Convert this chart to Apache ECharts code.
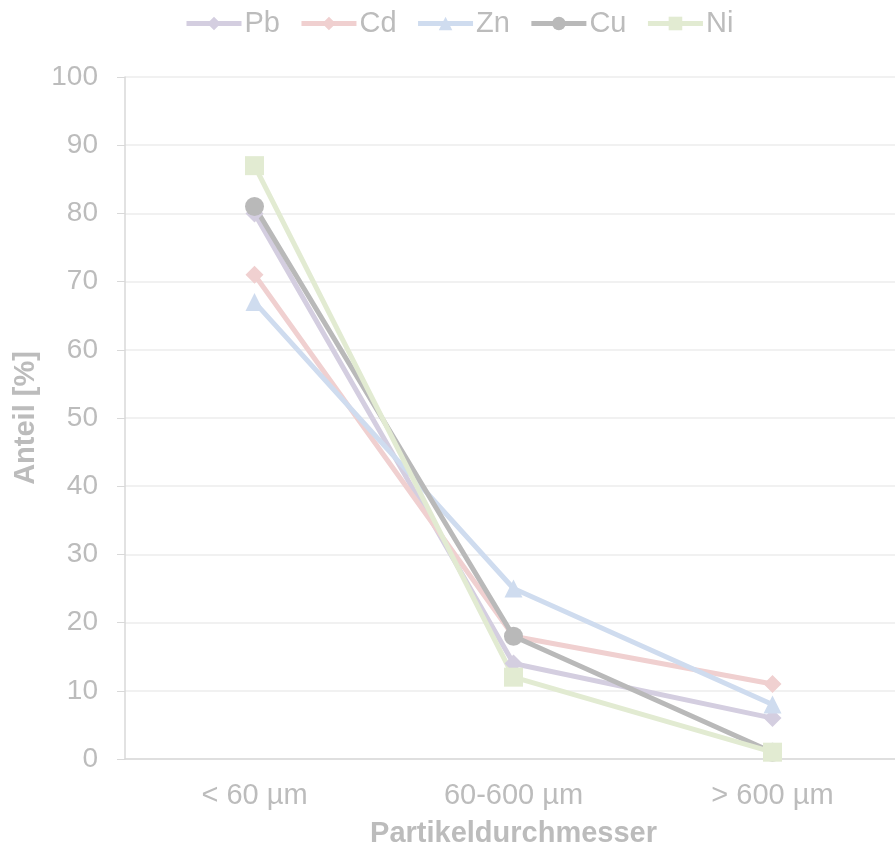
<!DOCTYPE html>
<html>
<head>
<meta charset="utf-8">
<script src="https://cdn.jsdelivr.net/npm/echarts@6/dist/echarts.min.js"></script>
<style>
  html, body { margin: 0; padding: 0; background: #fff; }
  #chart { width: 895px; height: 849px; }
</style>
</head>
<body>
<div id="chart"></div>
<script>
// Kategorien und Werte
const categories = ['< 60 µm', '60-600 µm', '> 600 µm'];
const pb = [80, 14, 6];
const cd = [71, 18, 11];
const zn = [67, 25, 8];
const cu = [81, 18, 1];
const ni = [87, 12, 1];

const textColor = '#bcbcbc';

const mkSeries = (name, data, color, symbol, size) => ({
  name: name,
  type: 'line',
  data: data,
  symbol: symbol,
  symbolSize: size,
  lineStyle: { color: color, width: 5 },
  itemStyle: { color: color },
  emphasis: { disabled: true }
});

const chart = echarts.init(document.getElementById('chart'));
chart.setOption({
  animation: false,
  textStyle: { fontFamily: 'Liberation Sans, Arial, sans-serif' },
  legend: {
    top: 4,
    left: 179,
    itemWidth: 55,
    itemHeight: 17,
    itemGap: 19,
    lineStyle: { width: 5 },
    textStyle: { color: textColor, fontSize: 29, padding: [0, 0, 0, -2] }
  },
  grid: { left: 125, top: 77, width: 777, height: 682, outerBoundsMode: 'none' },
  xAxis: {
    type: 'category',
    data: categories,
    name: 'Partikeldurchmesser',
    nameLocation: 'middle',
    nameGap: 60,
    nameTextStyle: { color: textColor, fontSize: 29, fontWeight: 'bold' },
    axisLine: { lineStyle: { color: '#d9d9d9', width: 1.5 } },
    axisTick: { length: 8, lineStyle: { color: '#d9d9d9' } },
    axisLabel: { color: textColor, fontSize: 29, margin: 22 }
  },
  yAxis: {
    type: 'value',
    min: 0,
    max: 100,
    interval: 10,
    name: 'Anteil [%]',
    nameLocation: 'middle',
    nameGap: 80,
    nameTextStyle: { color: textColor, fontSize: 29, fontWeight: 'bold' },
    axisLine: { show: true, lineStyle: { color: '#d9d9d9', width: 1.5 } },
    axisTick: { show: true, length: 8, lineStyle: { color: '#d9d9d9' } },
    axisLabel: { color: textColor, fontSize: 28, margin: 27 },
    splitLine: { lineStyle: { color: '#ececec', width: 1.5 } }
  },
  series: [
    mkSeries('Pb', pb, '#d4cee0', 'diamond', 18),
    mkSeries('Cd', cd, '#f0d0d0', 'diamond', 18),
    mkSeries('Zn', zn, '#cfdcef', 'triangle', 18),
    mkSeries('Cu', cu, '#b9b9b9', 'circle', 19),
    mkSeries('Ni', ni, '#e2ebd2', 'rect', 19)
  ]
});
</script>
</body>
</html>
